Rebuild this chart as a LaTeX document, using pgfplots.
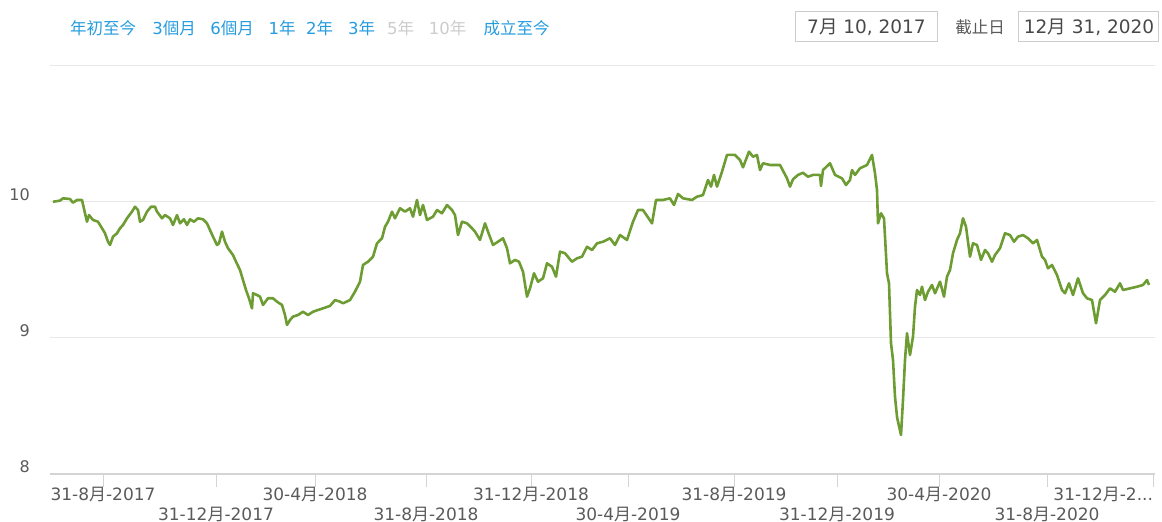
\documentclass[border=0pt]{standalone}
\usepackage{fontspec}
\setmainfont{DejaVu Sans}
\newfontfamily\cjk{Noto Sans CJK TC}
\usepackage{pgfplots}
\pgfplotsset{compat=1.18}
\definecolor{linegreen}{RGB}{108,156,50}
\definecolor{btnblue}{RGB}{38,156,222}
\definecolor{btngray}{RGB}{204,204,204}
\definecolor{labgray}{RGB}{90,90,90}
\definecolor{gridgray}{RGB}{232,232,232}
\definecolor{axisgray}{RGB}{212,212,212}
\definecolor{boxgray}{RGB}{204,204,204}
\newcommand{\yue}{{\cjk 月}}
\begin{document}
\begin{tikzpicture}[x=1pt,y=1pt]
\path[use as bounding box] (0,0) rectangle (1162,522);
\begin{axis}[
  at={(50pt,48pt)}, anchor=south west, scale only axis,
  width=1105pt, height=408pt,
  xmin=50, xmax=1155, ymin=8, ymax=11,
  axis x line*=bottom, axis y line*=left,
  x axis line style={draw=axisgray, line width=1.6pt},
  y axis line style={draw=none},
  ytick={8,9,10,11}, yticklabels={8,9,10,{}},
  ymajorgrids, grid style={draw=gridgray, line width=1pt},
  ytick style={draw=none},
  yticklabel style={anchor=east, inner sep=0pt, xshift=-7pt, yshift=7pt,
    font=\fontsize{16}{18}\selectfont, text=labgray},
  xtick={103,315,531,734,939,1153},
  xticklabels={31-8\yue-2017,30-4\yue-2018,31-12\yue-2018,31-8\yue-2019,30-4\yue-2020,\makebox[0pt][r]{31-12\yue-2...}},
  extra x ticks={216,426,628,837,1047},
  extra x tick labels={31-12\yue-2017,31-8\yue-2018,30-4\yue-2019,31-12\yue-2019,31-8\yue-2020},
  extra x tick style={xticklabel style={yshift=-20pt}},
  tick align=outside, major tick length=13pt,
  xtick style={draw=axisgray, line width=1pt},
  xticklabel style={anchor=base, inner sep=0pt, yshift=-13pt,
    font=\fontsize{17}{19}\selectfont, text=labgray},
  clip=false,
]
\addplot[linegreen, line width=2.6pt, line join=round] coordinates {
(53,10.002)(60,10.010)(63,10.027)(70,10.022)(73,9.995)(77,10.015)(82,10.015)(85,9.917)(87,9.855)(89,9.904)(93,9.868)(98,9.855)(102,9.807)(105,9.770)(108,9.708)(110,9.684)(113,9.745)(117,9.770)(120,9.807)(123,9.831)(127,9.880)(132,9.929)(135,9.965)(138,9.941)(140,9.855)(143,9.868)(147,9.929)(151,9.965)(155,9.965)(157,9.929)(162,9.880)(165,9.904)(170,9.880)(173,9.831)(177,9.904)(180,9.843)(184,9.873)(187,9.831)(190,9.873)(194,9.855)(198,9.880)(203,9.873)(207,9.843)(210,9.794)(213,9.745)(217,9.684)(219,9.696)(222,9.782)(225,9.708)(228,9.660)(233,9.610)(236,9.561)(240,9.500)(243,9.426)(246,9.353)(249,9.292)(252,9.218)(253,9.329)(257,9.316)(260,9.304)(263,9.243)(268,9.292)(273,9.292)(277,9.267)(282,9.243)(285,9.169)(287,9.096)(290,9.132)(293,9.157)(298,9.169)(303,9.193)(308,9.169)(313,9.193)(318,9.206)(323,9.218)(330,9.236)(335,9.279)(340,9.267)(343,9.255)(350,9.279)(355,9.341)(360,9.414)(363,9.537)(368,9.561)(373,9.598)(377,9.696)(382,9.733)(385,9.818)(388,9.855)(392,9.929)(395,9.880)(400,9.954)(405,9.929)(410,9.954)(413,9.892)(417,10.015)(420,9.904)(423,9.978)(427,9.868)(433,9.892)(437,9.941)(442,9.917)(447,9.978)(452,9.941)(455,9.904)(458,9.757)(462,9.855)(467,9.843)(472,9.807)(475,9.782)(480,9.721)(485,9.843)(488,9.782)(493,9.684)(498,9.708)(503,9.733)(507,9.660)(510,9.549)(515,9.574)(519,9.561)(523,9.488)(527,9.304)(530,9.365)(534,9.476)(538,9.414)(543,9.439)(547,9.549)(552,9.524)(556,9.451)(560,9.635)(565,9.623)(572,9.561)(577,9.586)(582,9.598)(587,9.671)(592,9.647)(597,9.696)(603,9.708)(610,9.733)(615,9.684)(620,9.757)(627,9.721)(633,9.855)(638,9.941)(643,9.941)(652,9.843)(656,10.015)(663,10.015)(670,10.027)(674,9.978)(678,10.059)(683,10.027)(692,10.015)(697,10.039)(703,10.051)(708,10.162)(711,10.113)(714,10.199)(717,10.113)(722,10.223)(727,10.346)(735,10.346)(740,10.309)(743,10.255)(749,10.370)(753,10.333)(757,10.346)(760,10.235)(763,10.285)(770,10.272)(780,10.272)(787,10.174)(790,10.113)(793,10.167)(798,10.199)(803,10.215)(808,10.186)(813,10.199)(820,10.199)(821,10.118)(823,10.235)(830,10.285)(835,10.199)(842,10.174)(846,10.125)(850,10.162)(852,10.235)(855,10.199)(860,10.248)(867,10.272)(872,10.346)(875,10.211)(877,10.088)(878,9.843)(881,9.917)(884,9.880)(887,9.476)(889,9.402)(891,8.961)(893,8.838)(895,8.568)(897,8.421)(898,8.385)(901,8.287)(903,8.544)(905,8.838)(907,9.035)(910,8.875)(913,9.010)(915,9.230)(917,9.353)(920,9.316)(922,9.377)(925,9.279)(928,9.340)(932,9.390)(935,9.329)(940,9.414)(944,9.304)(947,9.451)(950,9.500)(953,9.623)(957,9.721)(960,9.770)(963,9.880)(966,9.818)(970,9.598)(973,9.696)(977,9.684)(981,9.574)(985,9.647)(988,9.623)(992,9.561)(995,9.610)(1000,9.660)(1005,9.770)(1010,9.757)(1014,9.708)(1018,9.745)(1023,9.757)(1028,9.733)(1033,9.696)(1037,9.721)(1042,9.598)(1045,9.574)(1048,9.512)(1052,9.537)(1057,9.463)(1062,9.353)(1065,9.329)(1069,9.402)(1073,9.316)(1078,9.439)(1083,9.329)(1087,9.292)(1092,9.279)(1096,9.108)(1100,9.279)(1105,9.316)(1110,9.365)(1115,9.340)(1120,9.402)(1123,9.353)(1130,9.365)(1137,9.377)(1143,9.390)(1147,9.426)(1149,9.390)
};
\end{axis}
% range buttons
\begin{scope}[every node/.style={font=\fontsize{16.5}{19}\selectfont, inner sep=0pt, anchor=center}]
\node[text=btnblue] at (103,494) {\cjk 年初至今};
\node[text=btnblue] at (174,494) {3{\cjk 個月}};
\node[text=btnblue] at (232,494) {6{\cjk 個月}};
\node[text=btnblue] at (282,494) {1{\cjk 年}};
\node[text=btnblue] at (319.5,494) {2{\cjk 年}};
\node[text=btnblue] at (361.5,494) {3{\cjk 年}};
\node[text=btngray] at (400.5,494) {5{\cjk 年}};
\node[text=btngray] at (447.5,494) {10{\cjk 年}};
\node[text=btnblue] at (516.5,494) {\cjk 成立至今};
\end{scope}
% date boxes
\draw[boxgray, line width=1pt] (795.5,510) rectangle (937,480);
\draw[boxgray, line width=1pt] (1018.5,510) rectangle (1158,480);
\node[font=\fontsize{18.5}{21}\selectfont, text=labgray!80!black, inner sep=0pt] at (866.5,495) {7\yue{} 10, 2017};
\node[font=\fontsize{16.5}{19}\selectfont, text=labgray, inner sep=0pt] at (980,495) {\cjk 截止日};
\node[font=\fontsize{18.5}{21}\selectfont, text=labgray!80!black, inner sep=0pt] at (1089,495) {12\yue{} 31, 2020};
\end{tikzpicture}
\end{document}
